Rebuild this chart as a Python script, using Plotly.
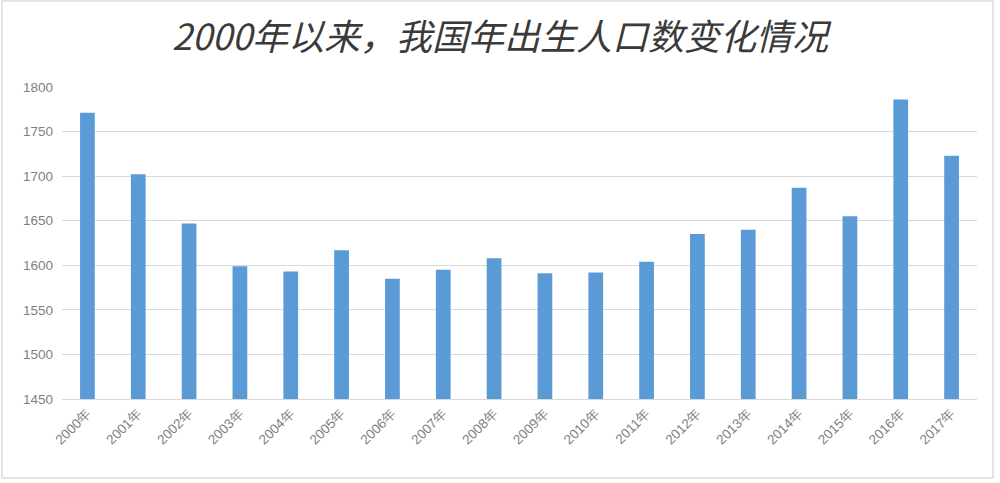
import plotly.graph_objects as go

years = ["2000年", "2001年", "2002年", "2003年", "2004年", "2005年", "2006年", "2007年", "2008年",
         "2009年", "2010年", "2011年", "2012年", "2013年", "2014年", "2015年", "2016年", "2017年"]
births = [1771, 1702, 1647, 1599, 1593, 1617, 1585, 1595, 1608,
          1591, 1592, 1604, 1635, 1640, 1687, 1655, 1786, 1723]
y_ticks = [1450, 1500, 1550, 1600, 1650, 1700, 1750, 1800]

fig = go.Figure(go.Bar(x=years, y=births, marker=dict(color="#5B9BD5", line=dict(width=0)),
                       hoverinfo="x+y"))

L, R, T, B = 62, 23, 87, 84
pw, ph = 1000 - L - R, 483 - T - B

fig.update_layout(
    width=1000, height=483,
    margin=dict(l=L, r=R, t=T, b=B),
    paper_bgcolor="white", plot_bgcolor="white",
    bargap=0.71,
    title=dict(text="<i>2000年以来，我国年出生人口数变化情况</i>", x=0.5, xanchor="center",
               y=1 - 37 / 483, yanchor="middle",
               font=dict(family="Noto Sans CJK SC", size=36, color="#3a3a3a")),
    xaxis=dict(tickangle=-45, tickfont=dict(family="Liberation Sans", size=13.5, color="#7f7f7f"),
               showgrid=False, showline=True, linecolor="#d9d9d9", ticks=""),
    yaxis=dict(range=[1450, 1800], tickvals=y_ticks, showgrid=True, gridcolor="#d9d9d9",
               tickfont=dict(family="Liberation Sans", size=13.5, color="#7f7f7f"),
               zeroline=False, ticks="", ticklabelstandoff=8),
    shapes=[dict(type="rect", xref="paper", yref="paper",
                 x0=(2 - L) / pw, x1=(993 - L) / pw,
                 y0=(483 - B - 478) / ph, y1=(483 - B - 1) / ph,
                 line=dict(color="#dcdcdc", width=1.5), fillcolor="rgba(0,0,0,0)")],
)

fig.write_html("out.html", config={"displayModeBar": False},
               post_script="document.body.style.margin='0';")
